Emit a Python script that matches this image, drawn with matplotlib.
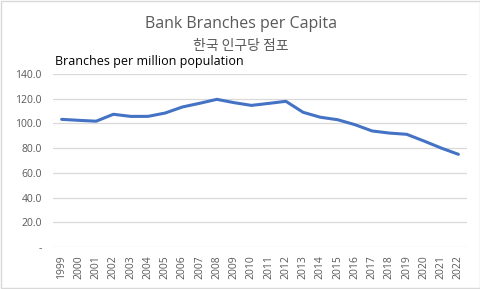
import matplotlib.pyplot as plt
from matplotlib.patches import Rectangle

# Branches per million population, Korea
years = [str(y) for y in range(1999, 2023)]
branches = [103.3, 102.5, 101.8, 107.4, 105.7, 105.7, 108.4, 113.3, 116.3, 119.5,
            116.8, 114.6, 116.2, 117.9, 109.0, 105.0, 103.0, 99.0, 93.9, 92.2,
            91.2, 85.8, 80.1, 75.0]
yticks = [0, 20, 40, 60, 80, 100, 120, 140]
ytick_labels = ['-', '20.0', '40.0', '60.0', '80.0', '100.0', '120.0', '140.0']

grey = '#595959'
plt.rcParams['font.family'] = ['Open Sans', 'Noto Sans CJK KR', 'DejaVu Sans']

fig = plt.figure(figsize=(4.81, 2.89), dpi=100)
ax = fig.add_axes([53 / 481, 1 - 247 / 289, 414 / 481, 173 / 289])

x = range(len(years))
ax.plot(x, branches, color='#4472C4', linewidth=2.2, solid_capstyle='round')

ax.set_xlim(-0.5, len(years) - 0.5)
ax.set_ylim(0, 140)
ax.set_yticks(yticks)
ax.set_yticklabels(ytick_labels)
ax.set_xticks(list(x))
ax.set_xticklabels(years, rotation=90)
ax.tick_params(axis='both', length=0, labelsize=7.5, labelcolor=grey)
ax.tick_params(axis='y', pad=8)
ax.tick_params(axis='x', pad=6)
ax.grid(axis='y', color='#d9d9d9', linewidth=0.9)
ax.set_axisbelow(True)
for s in ax.spines.values():
    s.set_visible(False)

fig.text(241 / 481, 1 - 24 / 289, 'Bank Branches per Capita', ha='center', va='center',
         fontsize=11.5, color=grey)
fig.text(241 / 481, 1 - 46 / 289, '한국 인구당 점포', ha='center', va='center',
         fontsize=10, color=grey, family=['Noto Sans CJK KR', 'DejaVu Sans'])
fig.text(55 / 481, 1 - 61 / 289, 'Branches per million population', ha='left', va='center',
         fontsize=9, color='black')

fig.patches.append(Rectangle((0.002, 0.003), 0.995, 0.994, transform=fig.transFigure,
                             fill=False, edgecolor='#d9d9d9', linewidth=1))

fig.savefig('out.png', dpi=100)
